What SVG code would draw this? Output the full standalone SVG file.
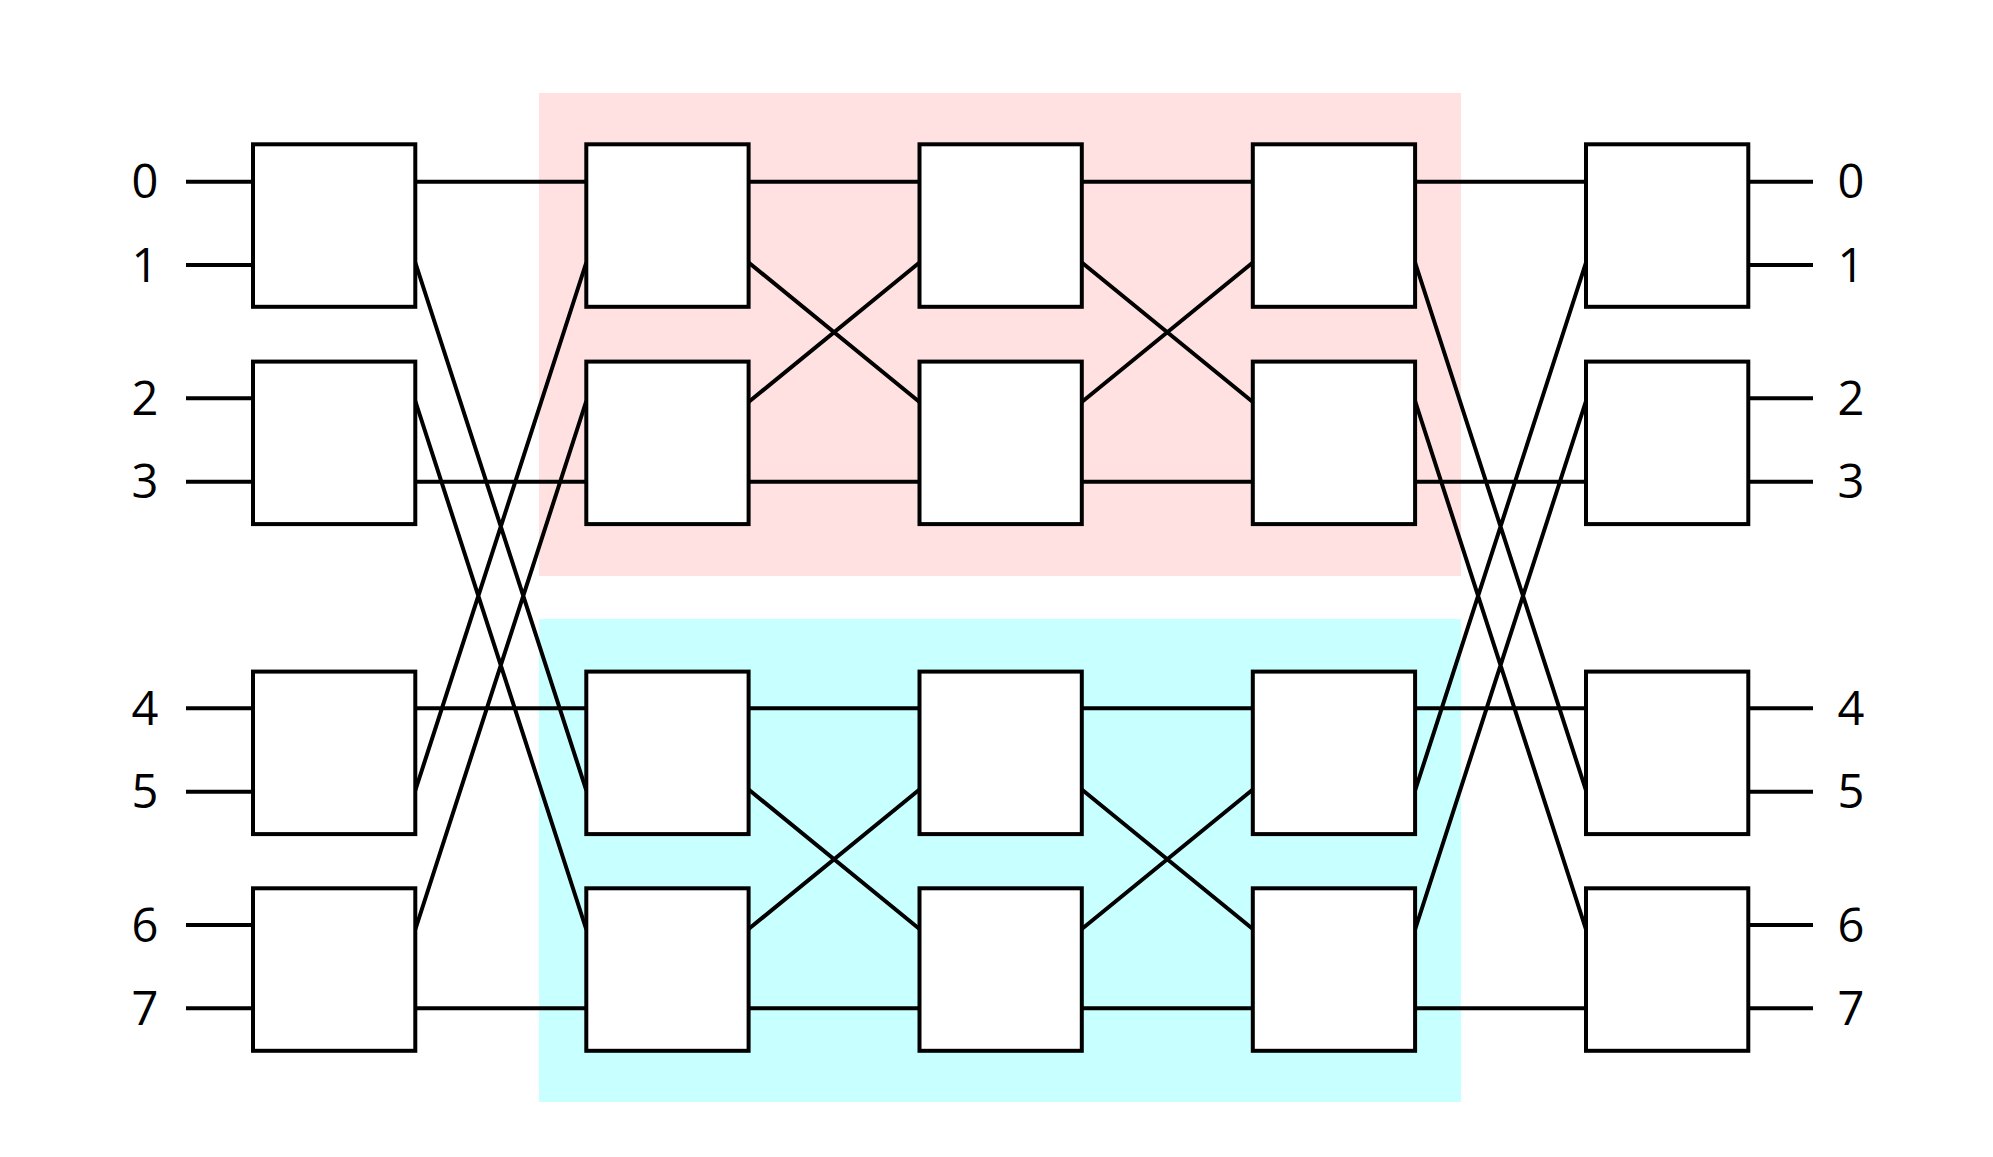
<svg xmlns="http://www.w3.org/2000/svg" width="1993" height="1157" viewBox="0 0 1993 1157">
<style>
.sw{fill:#ffffff;stroke:#000000;stroke-width:4}
.ln{stroke:#000000;stroke-width:4;fill:none}
.lb{font-family:"Open Sans","Noto Sans","DejaVu Sans",sans-serif;font-size:47px;fill:#000000;text-anchor:middle}
</style>
<rect width="1993" height="1157" fill="#ffffff"/>
<g id="bg">
<rect id="upper-half" x="539" y="93" width="922" height="483" fill="#ffe1e1"/>
<rect id="lower-half" x="539" y="619" width="922" height="483" fill="#c8ffff"/>
</g>
<g id="connectors" class="ln">
<!-- inputs -->
<path d="M186 181.7H253M186 265H253M186 398.3H253M186 481.7H253M186 708.3H253M186 791.7H253M186 925H253M186 1008.3H253"/>
<!-- outputs -->
<path d="M1748.3 181.7H1813M1748.3 265H1813M1748.3 398.3H1813M1748.3 481.7H1813M1748.3 708.3H1813M1748.3 791.7H1813M1748.3 925H1813M1748.3 1008.3H1813"/>
<!-- stage 1 -->
<path d="M415.3 181.7H586.3M415.3 262.5L586.3 790.5M415.3 401L586.3 929.5M415.3 481.7H586.3M415.3 708.3H586.3M415.3 790.5L586.3 262.5M415.3 929.5L586.3 401M415.3 1008.3H586.3"/>
<!-- stage 2 -->
<path d="M748.6 181.7H919.5M748.6 262.5L919.5 402M748.6 402L919.5 262.5M748.6 481.7H919.5M748.6 708.3H919.5M748.6 789.5L919.5 929M748.6 929L919.5 789.5M748.6 1008.3H919.5"/>
<!-- stage 3 -->
<path d="M1081.8 181.7H1252.8M1081.8 262.5L1252.8 402M1081.8 402L1252.8 262.5M1081.8 481.7H1252.8M1081.8 708.3H1252.8M1081.8 789.5L1252.8 929M1081.8 929L1252.8 789.5M1081.8 1008.3H1252.8"/>
<!-- stage 4 -->
<path d="M1415.1 181.7H1586M1415.1 262.5L1586 790.5M1415.1 401L1586 929.5M1415.1 481.7H1586M1415.1 708.3H1586M1415.1 790.5L1586 262.5M1415.1 929.5L1586 401M1415.1 1008.3H1586"/>
</g>
<g id="c1r1"><rect class="sw" x="253" y="144.3" width="162.3" height="162.5"/></g>
<g id="c1r2"><rect class="sw" x="253" y="361.6" width="162.3" height="162.5"/></g>
<g id="c1r3"><rect class="sw" x="253" y="671.6" width="162.3" height="162.5"/></g>
<g id="c1r4"><rect class="sw" x="253" y="888.3" width="162.3" height="162.5"/></g>
<g id="c2r1"><rect class="sw" x="586.3" y="144.3" width="162.3" height="162.5"/></g>
<g id="c2r2"><rect class="sw" x="586.3" y="361.6" width="162.3" height="162.5"/></g>
<g id="c2r3"><rect class="sw" x="586.3" y="671.6" width="162.3" height="162.5"/></g>
<g id="c2r4"><rect class="sw" x="586.3" y="888.3" width="162.3" height="162.5"/></g>
<g id="c3r1"><rect class="sw" x="919.5" y="144.3" width="162.3" height="162.5"/></g>
<g id="c3r2"><rect class="sw" x="919.5" y="361.6" width="162.3" height="162.5"/></g>
<g id="c3r3"><rect class="sw" x="919.5" y="671.6" width="162.3" height="162.5"/></g>
<g id="c3r4"><rect class="sw" x="919.5" y="888.3" width="162.3" height="162.5"/></g>
<g id="c4r1"><rect class="sw" x="1252.8" y="144.3" width="162.3" height="162.5"/></g>
<g id="c4r2"><rect class="sw" x="1252.8" y="361.6" width="162.3" height="162.5"/></g>
<g id="c4r3"><rect class="sw" x="1252.8" y="671.6" width="162.3" height="162.5"/></g>
<g id="c4r4"><rect class="sw" x="1252.8" y="888.3" width="162.3" height="162.5"/></g>
<g id="c5r1"><rect class="sw" x="1586" y="144.3" width="162.3" height="162.5"/></g>
<g id="c5r2"><rect class="sw" x="1586" y="361.6" width="162.3" height="162.5"/></g>
<g id="c5r3"><rect class="sw" x="1586" y="671.6" width="162.3" height="162.5"/></g>
<g id="c5r4"><rect class="sw" x="1586" y="888.3" width="162.3" height="162.5"/></g>
<g id="labels-in" class="lb">
<text x="145" y="198">0</text>
<text x="145" y="281.5">1</text>
<text x="145" y="414.8">2</text>
<text x="145" y="498.2">3</text>
<text x="145" y="724.8">4</text>
<text x="145" y="808.2">5</text>
<text x="145" y="941.5">6</text>
<text x="145" y="1024.8">7</text>
</g>
<g id="labels-out" class="lb">
<text x="1851" y="198">0</text>
<text x="1851" y="281.5">1</text>
<text x="1851" y="414.8">2</text>
<text x="1851" y="498.2">3</text>
<text x="1851" y="724.8">4</text>
<text x="1851" y="808.2">5</text>
<text x="1851" y="941.5">6</text>
<text x="1851" y="1024.8">7</text>
</g>
</svg>
